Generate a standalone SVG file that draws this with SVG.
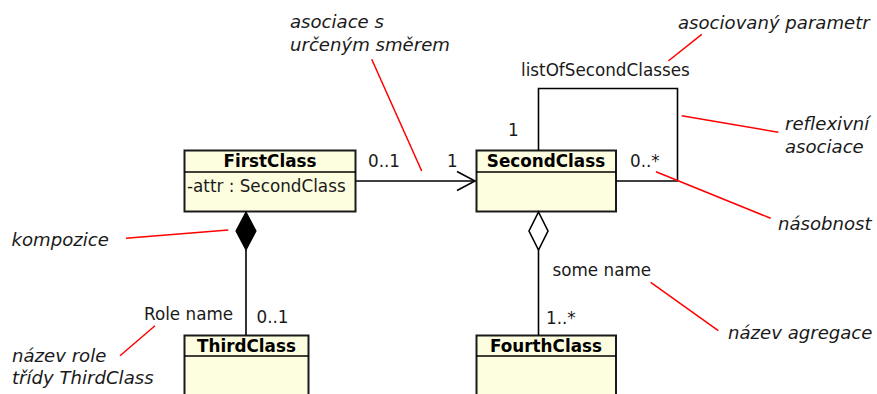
<svg xmlns="http://www.w3.org/2000/svg" width="877" height="394" viewBox="0 0 877 394">
<style>
text{font-family:"DejaVu Sans",sans-serif;font-size:16.8px;fill:#1a1a1a}
.b{font-weight:bold;text-anchor:middle;fill:#000}
.i{font-style:italic;font-size:18.1px}
.box{fill:#fdfde0;stroke:#1a1a1a;stroke-width:2}
.ln{fill:none;stroke:#000;stroke-width:1.6}
.red{fill:none;stroke:#f00;stroke-width:1.5}
</style>
<rect width="877" height="394" fill="#fff"/>
<g id="FirstClass">
<rect class="box" x="184.5" y="150.5" width="171" height="61"/>
<line class="ln" x1="184.5" y1="172" x2="355.5" y2="172" stroke-width="1.6"/>
<text class="b" x="270" y="167">FirstClass</text>
<text x="187" y="192">-attr : SecondClass</text>
</g>
<g id="SecondClass">
<rect class="box" x="476.5" y="150.5" width="139.5" height="61"/>
<line class="ln" x1="476.5" y1="172" x2="616" y2="172"/>
<text class="b" x="546" y="167">SecondClass</text>
</g>
<g id="ThirdClass">
<rect class="box" x="184.5" y="335.5" width="124" height="70"/>
<line class="ln" x1="184.5" y1="356" x2="308.5" y2="356"/>
<text class="b" x="246.5" y="352">ThirdClass</text>
</g>
<g id="FourthClass">
<rect class="box" x="476.5" y="335.5" width="139.5" height="70"/>
<line class="ln" x1="476.5" y1="356" x2="616" y2="356"/>
<text class="b" x="546" y="352">FourthClass</text>
</g>
<g id="connectors">
<line class="ln" x1="356" y1="181" x2="475" y2="181"/>
<polyline class="ln" points="457,171.5 475,181 457,190.5"/>
<path class="ln" d="M538.5,150.5 V88.5 H677.5 V181 H616"/>
<polygon points="246,212 256,231 246,250 236,231" fill="#000" stroke="#000" stroke-width="1.2"/>
<line class="ln" x1="246" y1="250" x2="246" y2="335"/>
<polygon points="538.5,212 548,231 538.5,250 529,231" fill="#fff" stroke="#000" stroke-width="1.6"/>
<line class="ln" x1="538.5" y1="250" x2="538.5" y2="335"/>
<text x="368" y="167">0..1</text>
<text x="447" y="167">1</text>
<text x="508" y="136">1</text>
<text x="630" y="167">0..*</text>
<text x="521" y="76">listOfSecondClasses</text>
<text x="144" y="320">Role name</text>
<text x="256.5" y="323">0..1</text>
<text x="552.5" y="276">some name</text>
<text x="546" y="324">1..*</text>
</g>
<g id="annotations">
<text class="i" x="290" y="27.5">asociace s</text>
<text class="i" x="290" y="51">určeným směrem</text>
<line class="red" x1="371.7" y1="59.3" x2="421.7" y2="171"/>
<text class="i" x="678" y="29">asociovaný parametr</text>
<line class="red" x1="701.7" y1="34.3" x2="668.3" y2="61"/>
<text class="i" x="785" y="130">reflexivní</text>
<text class="i" x="785" y="152.5">asociace</text>
<line class="red" x1="681.7" y1="115.7" x2="778.3" y2="132.3"/>
<text class="i" x="778" y="230">násobnost</text>
<line class="red" x1="656" y1="171.7" x2="770.7" y2="218.3"/>
<text class="i" x="11.5" y="246">kompozice</text>
<line class="red" x1="126" y1="238.3" x2="228.3" y2="230"/>
<text class="i" x="12" y="361.5">název role</text>
<text class="i" x="12" y="384">třídy ThirdClass</text>
<line class="red" x1="155" y1="325.7" x2="120" y2="355.7"/>
<text class="i" x="728" y="338.5">název agregace</text>
<line class="red" x1="650.7" y1="282.3" x2="718.3" y2="330.7"/>
</g>
</svg>
